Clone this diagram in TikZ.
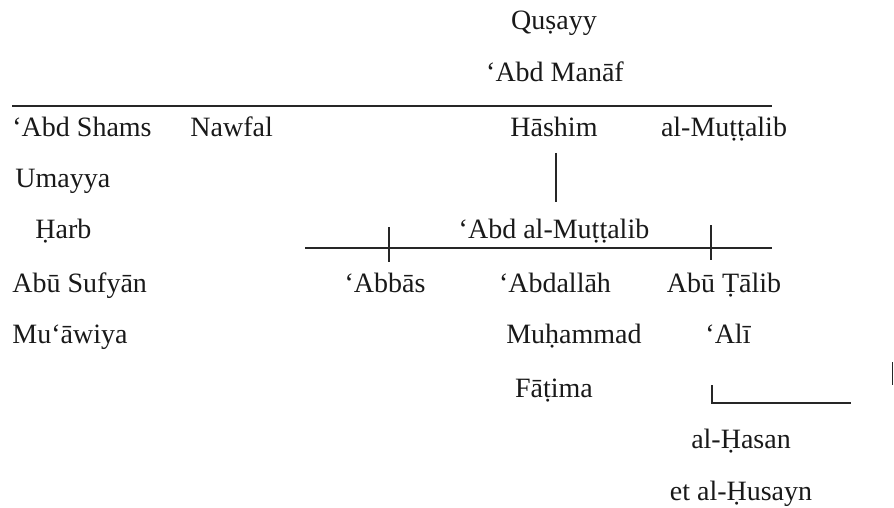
\documentclass[tikz,border=0pt]{standalone}
\usepackage{fontspec}
\setmainfont{Liberation Serif}
\usetikzlibrary{calc,positioning}

\begin{document}
\begin{tikzpicture}[x=0.5pt,y=-0.5pt,
	font=\fontsize{14}{16}\selectfont,
	person/.style={inner sep=0pt,anchor=base,text=black!90},
	lperson/.style={inner sep=0pt,anchor=base west,text=black!90},
	bar/.style={line width=0.9pt,black!85}]
	\useasboundingbox (0,0) rectangle (894,508);

	%top of the line
	\node[person] (qusayy) at (554,30) {Quṣayy};
	\node[person] (abdmanaf) at (555,82) {‘Abd Manāf};

	%sons of 'Abd Manaf
	\node[lperson] (abdshams) at (12,136) {‘Abd Shams};
	\node[lperson] (nawfal) at (190,136) {Nawfal};
	\node[person] (hashim) at (554,136) {Hāshim};
	\node[person] (muttalib) at (724,136) {al-Muṭṭalib};

	%Umayyad branch
	\node[lperson] (umayya) at (15,187) {Umayya};
	\node[lperson] (harb) at (35,238) {Ḥarb};
	\node[lperson] (abusufyan) at (12,292) {Abū Sufyān};
	\node[lperson] (muawiya) at (12,343) {Mu‘āwiya};

	%Hashimite branch
	\node[person] (abdmuttalib) at (554,238) {‘Abd al-Muṭṭalib};
	\node[person] (abbas) at (385,292) {‘Abbās};
	\node[person] (abdallah) at (555,292) {‘Abdallāh};
	\node[person] (abutalib) at (724,292) {Abū Ṭālib};
	\node[person] (muhammad) at (574,343) {Muḥammad};
	\node[person] (ali) at (728,343) {‘Alī};
	\node[person] (fatima) at (554,397) {Fāṭima};
	\node[person] (hasan) at (741,448) {al-Ḥasan};
	\node[person] (husayn) at (741,500) {et al-Ḥusayn};

	%bars
		\coordinate (topbar-l) at (12,106);
		\coordinate (topbar-r) at (772,106);
		\draw[bar] (topbar-l) -- (topbar-r);
		\coordinate (lowbar-l) at (305,248);
		\coordinate (lowbar-r) at (772,248);
		\draw[bar] (lowbar-l) -- (lowbar-r);

	%descent lines
		\draw[bar] ($(hashim.base)+(2,17)$) -- ($(abdmuttalib.base)+(2,-36)$);
		\draw[bar] ($(abbas.base)+(4,-65)$) -- ($(abbas.base)+(4,-30)$);
		\draw[bar] ($(abutalib.base)+(-13,-67)$) -- ($(abutalib.base)+(-13,-32)$);
		\draw[bar] ($(ali.base)+(-16,42)$) -- ($(ali.base)+(-16,60)$)
			-- ($(ali.base)+(123,60)$);

	%mark at the right edge
		\coordinate (edge-a) at (892.5,362);
		\coordinate (edge-b) at (892.5,385);
		\draw[bar] (edge-a) -- (edge-b);
\end{tikzpicture}
\end{document}
